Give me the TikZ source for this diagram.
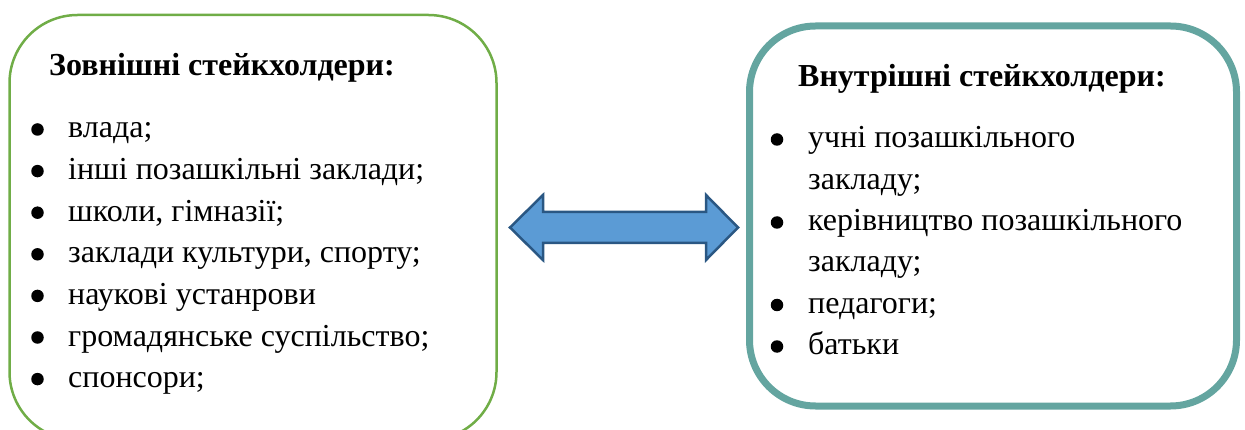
\documentclass[tikz,border=0pt]{standalone}
\usepackage{fontspec}
\setmainfont{LiberationSerif}[Extension=.ttf, UprightFont=*-Regular, BoldFont=*-Bold, ItalicFont=*-Italic, BoldItalicFont=*-BoldItalic]
\definecolor{leftgreen}{HTML}{70AD47}
\definecolor{rightteal}{HTML}{64A5A0}
\definecolor{arrowfill}{HTML}{5B9BD5}
\definecolor{arrowline}{HTML}{2A5783}
\begin{document}
\begin{tikzpicture}[x=1pt,y=1pt,
  txt/.style={anchor=base west, inner sep=0pt, font=\fontsize{32}{38}\selectfont},
  ttl/.style={anchor=base west, inner sep=0pt, font=\fontsize{32}{38}\selectfont\bfseries},
  dot/.style={circle, fill=black, inner sep=0pt, minimum size=12.5pt}]
\useasboundingbox (0,0) rectangle (1245,-430);
\begin{scope}
\clip (0,0) rectangle (1245,-430);
% boxes
\draw[leftgreen, line width=2.5pt, rounded corners=68pt] (9.5,-15) rectangle (496.5,-440);
\draw[rightteal, line width=7pt, rounded corners=66pt] (749.5,-26) rectangle (1236.5,-406);
\end{scope}
% left text
\node[ttl] (lt) at (49,-76) {Зовнішні стейкхолдери:};
\foreach \t [count=\i] in {влада;, інші позашкільні заклади;, {школи, гімназії;}, {заклади культури, спорту;}, наукові устанрови, громадянське суспільство;, спонсори;}{
  \node[txt] (l\i) at (68,{-138-41.6*(\i-1)}) {\t};
  \node[dot] (lb\i) at (37.5,{-129.5-41.6*(\i-1)}) {};
}
% right text
\node[ttl] (rt) at (798,-87) {Внутрішні стейкхолдери:};
\node[txt] (r1) at (808,-148) {учні позашкільного};
\node[txt] (r1b) at (808,-189.5) {закладу;};
\node[txt] (r2) at (808,-231) {керівництво позашкільного};
\node[txt] (r2b) at (808,-272) {закладу;};
\node[txt] (r3) at (808,-313.5) {педагоги;};
\node[txt] (r4) at (808,-355) {батьки};
\node[dot] (rb1) at (777,-139.5) {};
\node[dot] (rb2) at (777,-222.5) {};
\node[dot] (rb3) at (777,-305) {};
\node[dot] (rb4) at (777,-346.5) {};
% double arrow
\coordinate (aL) at (510,-227.5);
\coordinate (aR) at (738,-227.5);
\draw[arrowline, fill=arrowfill, line width=2.5pt, line join=miter]
  (aL) -- ++(33,32.5) -- ++(0,-17) -- ++(163,0) -- ++(0,17) -- (aR)
  -- ++(-32,-32.5) -- ++(0,17) -- ++(-163,0) -- ++(0,-17) -- cycle;
\end{tikzpicture}
\end{document}
